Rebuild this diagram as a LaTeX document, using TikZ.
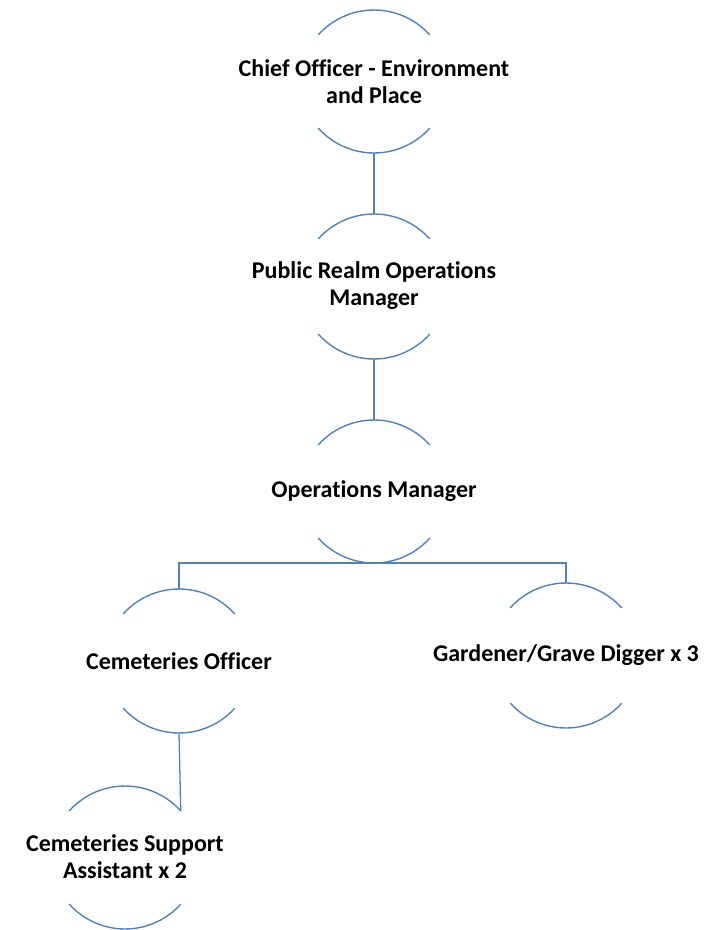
\documentclass[tikz,border=0pt]{standalone}
\usepackage{fontspec}
\setmainfont[Ligatures={NoCommon}]{Carlito}
\definecolor{orgblue}{RGB}{79,129,189}
\newcommand{\orgarcs}[3]{%
  \draw[arcline] (#1-55.74,#2-50.18) arc[start angle=222,end angle=318,radius=75];
  \draw[arcline] (#1+55.74,#3+50.18) arc[start angle=42,end angle=138,radius=75];}
\begin{document}
\begin{tikzpicture}[x=1pt,y=-1pt,
  arcline/.style={draw=orgblue, line width=1.4pt},
  conn/.style={draw=orgblue, line width=1.3pt},
  lbl/.style={align=center, font=\fontsize{24}{27}\selectfont\bfseries, inner sep=0pt}]
\path[use as bounding box] (0,0) rectangle (725,930);
% Chief Officer
\orgarcs{374}{85}{78}
\node[lbl] (chief) at (374,82) {Chief Officer - Environment\\and Place};
\coordinate (chiefB) at (374,153);
% Public Realm
\orgarcs{374}{289}{284}
\node[lbl] (prom) at (374,286) {Public Realm Operations\\Manager};
\coordinate (promT) at (374,214);
\coordinate (promB) at (374,359);
% Operations Manager
\orgarcs{374}{495}{488}
\node[lbl] (om) at (374,491) {Operations Manager};
\coordinate (omT) at (374,420);
\coordinate (omB) at (374,563);
% Cemeteries Officer
\orgarcs{179}{664}{658}
\node[lbl] (co) at (179,661) {Cemeteries Officer};
\coordinate (coT) at (179,589);
\coordinate (coB) at (179,733);
% Gardener
\orgarcs{566}{658}{653}
\node[lbl] (gd) at (566,655) {Gardener/Grave Digger x 3};
\coordinate (gdT) at (566,583);
% Cemeteries Support
\orgarcs{125}{861}{854}
\node[lbl] (csa) at (125,857) {Cemeteries Support\\Assistant x 2};
\coordinate (csaTR) at (180.74,810.82);
% connectors
\draw[conn] (chiefB) -- (promT);
\draw[conn] (promB) -- (omT);
\draw[conn] (omB) -| (coT);
\draw[conn] (omB) -| (gdT);
\draw[conn] (coB) -- (csaTR);
\end{tikzpicture}
\end{document}
